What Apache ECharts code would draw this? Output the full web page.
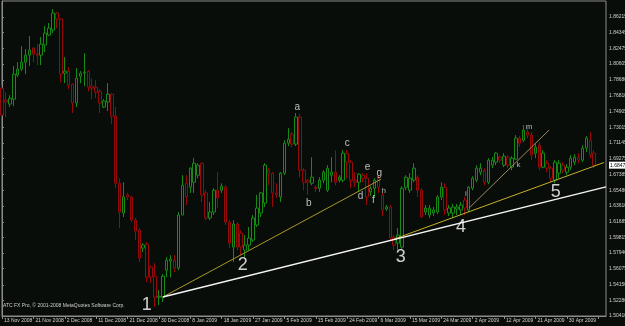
<!DOCTYPE html>
<html><head><meta charset="utf-8">
<script src="https://cdn.jsdelivr.net/npm/echarts@6.0.0/dist/echarts.min.js"></script>
<style>html,body{margin:0;padding:0;background:#080d09;}#c{width:625px;height:326px;}</style>
</head><body><div id="c"></div>
<script>
// ---- data (daily bars, 13 Nov 2008 .. 8 May 2009) ----
const xTickLabels = ['13 Nov 2008','21 Nov 2008','2 Dec 2008','11 Dec 2008','21 Dec 2008','30 Dec 2008','8 Jan 2009','18 Jan 2009','27 Jan 2009','5 Feb 2009','15 Feb 2009','24 Feb 2009','6 Mar 2009','15 Mar 2009','24 Mar 2009','2 Apr 2009','12 Apr 2009','21 Apr 2009','30 Apr 2009'];
const yTickLabels = ['1.50410','1.52280','1.54150','1.56075','1.57940','1.59815','1.61685','1.63610','1.65480','1.67385','1.69275','1.71145','1.73015','1.74905','1.76810','1.78680','1.80605','1.82475','1.84345','1.86215'];
const lastPriceLabel = '1.68470';

const opens  = [1.7769,1.7627,1.7579,1.7637,1.7925,1.7997,1.8081,1.8165,1.8249,1.8177,1.8165,1.8285,1.8405,1.8465,1.8669,1.8597,1.7949,1.7973,1.7817,1.7591,1.7913,1.7949,1.7973,1.7793,1.7781,1.7733,1.7543,1.7603,1.7697,1.7435,
 1.6631,1.6274,1.6491,1.6467,1.6190,1.6070,1.5854,1.5902,1.5626,1.5518,1.5266,1.5266,1.5590,1.5698,1.5710,1.5614,1.6250,1.6631,1.6583,1.6643,1.6727,1.6871,1.6515,1.6214,1.6286,1.6547,1.6547,1.6583,1.6166,1.5866,
 1.6142,1.6034,1.5830,1.5890,1.5950,1.6130,1.6274,1.6394,1.6787,1.6751,1.6515,1.6467,1.6751,1.7111,1.7219,1.7099,1.7423,1.6787,1.6667,1.6631,1.6583,1.6571,1.6667,1.6547,1.6727,1.6763,1.6667,1.6667,1.6991,1.6883,
 1.6667,1.6643,1.6727,1.6691,1.6527,1.6571,1.6691,1.6491,1.6322,1.6346,1.5986,1.5914,1.5866,1.6583,1.6547,1.6667,1.6703,1.6547,1.6286,1.6250,1.6274,1.6286,1.6467,1.6583,1.6274,1.6274,1.6322,1.6310,1.6430,1.6310,
 1.6571,1.6667,1.6763,1.6787,1.6643,1.6847,1.6883,1.6943,1.6847,1.6943,1.6823,1.6919,1.7171,1.7147,1.7243,1.7207,1.6991,1.7087,1.6823,1.6871,1.6811,1.6667,1.6751,1.6847,1.6763,1.6823,1.6883,1.6943,1.6907,1.7051,
 1.7147,1.6991];
const closes = [1.7447,1.7603,1.7649,1.7937,1.7997,1.8081,1.8165,1.8225,1.8177,1.8165,1.8297,1.8429,1.8489,1.8669,1.8597,1.7937,1.7973,1.7805,1.7591,1.7889,1.7949,1.7961,1.7781,1.7769,1.7721,1.7591,1.7615,1.7697,1.7435,1.6631,
 1.6286,1.6467,1.6467,1.6190,1.6058,1.5734,1.5890,1.5506,1.5506,1.5266,1.5278,1.5518,1.5710,1.5722,1.5614,1.6250,1.6607,1.6467,1.6811,1.6871,1.6847,1.6491,1.6214,1.6286,1.6547,1.6455,1.6595,1.6166,1.5914,1.6142,
 1.5866,1.5866,1.5890,1.5974,1.6214,1.6334,1.6515,1.6847,1.6751,1.6515,1.6491,1.6751,1.7111,1.7159,1.7099,1.7423,1.6787,1.6643,1.6643,1.6703,1.6571,1.6667,1.6763,1.6811,1.6763,1.6643,1.6703,1.6991,1.6883,1.6667,
 1.6643,1.6739,1.6691,1.6467,1.6571,1.6667,1.6583,1.6310,1.6346,1.5974,1.5890,1.6010,1.6571,1.6703,1.6691,1.6811,1.6547,1.6226,1.6334,1.6334,1.6310,1.6467,1.6583,1.6310,1.6334,1.6346,1.6346,1.6370,1.6334,1.6583,
 1.6691,1.6811,1.6811,1.6643,1.6907,1.6907,1.6991,1.6907,1.6955,1.6847,1.6931,1.7171,1.7111,1.7267,1.7207,1.6967,1.7063,1.6823,1.6991,1.6811,1.6691,1.6883,1.6871,1.6787,1.6823,1.6931,1.6943,1.6907,1.7051,1.7171,
 1.6967,1.6847];
const lows   = [1.7423,1.7423,1.7543,1.7555,1.7901,1.7973,1.7937,1.8033,1.8081,1.8045,1.8045,1.8201,1.8393,1.8429,1.8489,1.7841,1.7829,1.7757,1.7471,1.7543,1.7829,1.7793,1.7733,1.7637,1.7649,1.7471,1.7531,1.7495,1.7339,1.6571,
 1.6094,1.6226,1.6430,1.6166,1.5950,1.5686,1.5806,1.5446,1.5434,1.5149,1.5173,1.5209,1.5506,1.5506,1.5566,1.5590,1.6250,1.6370,1.6515,1.6515,1.6691,1.6406,1.6190,1.6190,1.6250,1.6334,1.6515,1.6130,1.5854,1.5686,
 1.5830,1.5770,1.5746,1.5830,1.5926,1.6106,1.6226,1.6346,1.6607,1.6346,1.6455,1.6406,1.6727,1.7075,1.7063,1.7075,1.6703,1.6547,1.6491,1.6607,1.6527,1.6527,1.6631,1.6527,1.6643,1.6607,1.6643,1.6643,1.6691,1.6571,
 1.6583,1.6527,1.6643,1.6370,1.6479,1.6467,1.6515,1.6238,1.6298,1.5950,1.5830,1.5830,1.5830,1.6547,1.6515,1.6643,1.6467,1.6214,1.6250,1.6214,1.6238,1.6262,1.6430,1.6250,1.6238,1.6214,1.6250,1.6250,1.6250,1.6286,
 1.6547,1.6643,1.6727,1.6607,1.6619,1.6811,1.6847,1.6871,1.6823,1.6811,1.6787,1.6907,1.7063,1.7123,1.7171,1.6907,1.6931,1.6787,1.6811,1.6763,1.6643,1.6631,1.6691,1.6751,1.6727,1.6787,1.6847,1.6871,1.6883,1.7003,
 1.6931,1.6811];
const highs  = [1.7805,1.7721,1.7685,1.8033,1.8081,1.8273,1.8237,1.8393,1.8261,1.8297,1.8381,1.8513,1.8549,1.8717,1.8681,1.8609,1.8141,1.8021,1.7829,1.8009,1.7973,1.8189,1.7985,1.7889,1.7865,1.7757,1.7637,1.7829,1.7709,1.7543,
 1.6691,1.6643,1.6515,1.6479,1.6214,1.6094,1.5914,1.5926,1.5650,1.5674,1.5350,1.5542,1.5746,1.5770,1.5770,1.6286,1.6727,1.6727,1.6823,1.6931,1.6871,1.6883,1.6547,1.6406,1.6571,1.6763,1.6631,1.6607,1.6190,1.6190,
 1.6166,1.6070,1.6010,1.6106,1.6250,1.6491,1.6527,1.6871,1.6811,1.6763,1.6631,1.6763,1.7147,1.7291,1.7243,1.7471,1.7459,1.6811,1.6679,1.6943,1.6607,1.6703,1.6787,1.6847,1.6943,1.7027,1.6727,1.7027,1.7027,1.6907,
 1.6763,1.6751,1.6751,1.6751,1.6595,1.6691,1.6727,1.6515,1.6370,1.6370,1.6010,1.6094,1.6595,1.6727,1.6751,1.6871,1.6727,1.6571,1.6370,1.6370,1.6346,1.6491,1.6643,1.6631,1.6370,1.6382,1.6382,1.6406,1.6467,1.6595,
 1.6715,1.6847,1.6871,1.6811,1.6931,1.6943,1.7003,1.6967,1.6991,1.6967,1.6955,1.7207,1.7195,1.7327,1.7315,1.7243,1.7111,1.7123,1.7027,1.6907,1.6835,1.6907,1.6907,1.6883,1.6859,1.6967,1.6979,1.6991,1.7087,1.7195,
 1.7243,1.7027];

// trend lines: [barIndex, price] end points
const whiteLine   = [[41.0, 1.5268], [154.0, 1.6587]];
const yellowLine1 = [[41.0, 1.5268], [96.6, 1.6678]];
const yellowLine2 = [[99.3, 1.5951], [153.5, 1.6879]];
const yellowLine3 = [[119.1, 1.6334], [139.5, 1.7268]];

// wave annotations: [barIndex, price, text]
const waveNumbers = [[36.9,1.5173,'1'],[61.4,1.5652,'2'],[101.7,1.5751,'3'],[117.0,1.6110,'4'],[141.2,1.6529,'5']];
const waveLetters = [[75.3,1.7535,'a'],[78.2,1.6390,'b'],[88.0,1.7109,'c'],[91.4,1.6469,'d'],[93.2,1.6821,'e'],[94.7,1.6430,'f'],[96.2,1.6750,'g']];
const smallLetters = [[97.3,1.6541,'h'],[118.3,1.6502,'i'],[131.7,1.6849,'k'],[134.4,1.7308,'m']];

// ---- build ----
const N_SLOTS = 155; // bars + right shift
const MON = ['Jan','Feb','Mar','Apr','May','Jun','Jul','Aug','Sep','Oct','Nov','Dec'];
const categories = [];
{
  const d = new Date(Date.UTC(2008, 10, 13));
  while (categories.length < N_SLOTS) {
    if (d.getUTCDay() !== 6) categories.push(d.getUTCDate() + ' ' + MON[d.getUTCMonth()] + ' ' + d.getUTCFullYear());
    d.setUTCDate(d.getUTCDate() + 1);
  }
}
const candleData = opens.map((o, i) => [o, closes[i], lows[i], highs[i]]);
const yTickValues = yTickLabels.map(Number);
const lastClose = closes[closes.length - 1];

const BG = '#080d09', FRAME = '#8c8c8c', TXT = '#d2d2d2';
const FONT = 'Liberation Sans';

function lineSeries(pts, color, width) {
  return { type: 'line', xAxisIndex: 1, yAxisIndex: 0, data: pts, showSymbol: false, silent: true,
    lineStyle: { color: color, width: width }, z: 5, animation: false };
}
function textSeries(pts, size, color) {
  return { type: 'scatter', xAxisIndex: 1, yAxisIndex: 0, silent: true, z: 6,
    data: pts.map(p => ({ value: [p[0], p[1]], name: p[2] })),
    symbol: 'circle', symbolSize: 1, itemStyle: { color: 'rgba(0,0,0,0)' },
    label: { show: true, position: 'inside', formatter: p => p.name, color: color, fontSize: size, fontFamily: FONT } };
}

const chart = echarts.init(document.getElementById('c'), null, { renderer: 'canvas' });
chart.setOption({
  animation: false,
  backgroundColor: BG,
  grid: { left: 2, right: 19, top: 1, bottom: 10, show: true, borderColor: FRAME, borderWidth: 1, backgroundColor: BG,
    containLabel: false, outerBoundsMode: 'none' },
  xAxis: [{
    type: 'category', data: categories, boundaryGap: false,
    axisLine: { show: true, lineStyle: { color: FRAME, width: 1 } },
    axisTick: { show: true, interval: (i) => i % 8 === 0, length: 3, lineStyle: { color: FRAME } },
    axisLabel: { interval: (i) => i % 8 === 0 && i / 8 < xTickLabels.length, formatter: (v, i) => xTickLabels[i / 8] || '',
      align: 'left', fontSize: 5, color: TXT, margin: 2, fontFamily: FONT, padding: [0, 0, 0, 2] },
    splitLine: { show: false }
  }, {
    type: 'value', min: 0, max: N_SLOTS - 1, show: false
  }],
  yAxis: [{
    type: 'value', position: 'right', min: 1.5041, max: 1.8813,
    axisLine: { show: true, lineStyle: { color: FRAME } },
    axisTick: { show: true, customValues: yTickValues, length: 2, lineStyle: { color: FRAME } },
    axisLabel: { customValues: yTickValues.concat([lastClose]), fontSize: 5, color: TXT, margin: 3, fontFamily: FONT,
      formatter: (v) => {
        if (Math.abs(v - lastClose) < 1e-9) return '{cur|' + lastPriceLabel + '}';
        const k = yTickValues.findIndex(t => Math.abs(t - v) < 1e-9);
        return k >= 0 ? yTickLabels[k] : '';
      },
      rich: { cur: { backgroundColor: '#ffffff', color: '#000000', fontSize: 5, fontFamily: FONT, padding: [1, 3, 1, 1] } } },
    splitLine: { show: false }
  }],
  series: [
    { type: 'candlestick', xAxisIndex: 0, yAxisIndex: 0, data: candleData, barWidth: 3, z: 3,
      itemStyle: { color: BG, color0: BG, borderColor: '#158a15', borderColor0: '#980a0a', borderWidth: 1 } },
    lineSeries(yellowLine1, '#a8982a', 1),
    lineSeries(yellowLine2, '#c4b02a', 1),
    lineSeries(yellowLine3, '#9c8a5a', 1),
    lineSeries(whiteLine, '#f4f4f4', 1.5),
    textSeries(waveNumbers, 18, '#ffffff'),
    textSeries(waveLetters, 10, '#e6e6e6'),
    textSeries(smallLetters, 8, '#d8d8d8')
  ],
  graphic: [{ type: 'text', left: 3, top: 303, silent: true,
    style: { text: 'ATC FX Pro, © 2001-2008 MetaQuotes Software Corp.', fill: '#cfcfcf', fontSize: 5, fontFamily: FONT } }]
});
</script></body></html>
